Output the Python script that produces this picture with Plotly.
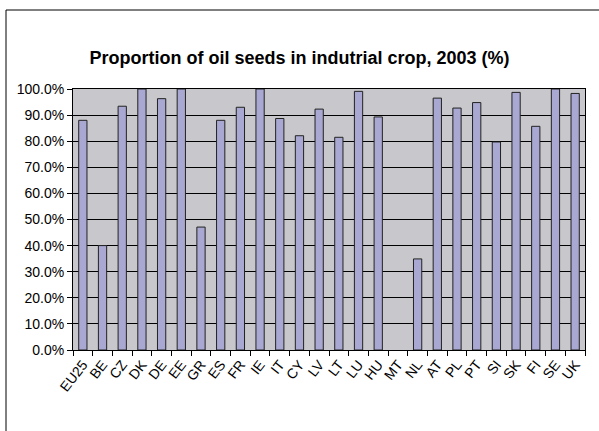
import plotly.graph_objects as go

countries = ["EU25", "BE", "CZ", "DK", "DE", "EE", "GR", "ES", "FR", "IE", "IT", "CY", "LV",
             "LT", "LU", "HU", "MT", "NL", "AT", "PL", "PT", "SI", "SK", "FI", "SE", "UK"]
# MT: nessun valore (barra assente nell'originale)
share = [88.0, 40.0, 93.4, 100.0, 96.3, 100.0, 47.1, 88.0, 93.0, 100.0, 88.7, 82.1, 92.3,
         81.5, 99.1, 89.3, None, 34.9, 96.5, 92.7, 94.8, 79.7, 98.7, 85.7, 100.0, 98.3]
y_ticks = [0, 10, 20, 30, 40, 50, 60, 70, 80, 90, 100]

fig = go.Figure()
fig.add_trace(go.Bar(
    x=countries,
    y=[v / 100 if v is not None else None for v in share],
    width=0.42,
    marker=dict(color="#a8a8d2", line=dict(color="#222222", width=1)),
))

fig.update_layout(
    width=599, height=431,
    paper_bgcolor="white",
    plot_bgcolor="#c8c8cc",
    margin=dict(l=73, r=14, t=89, b=81),
    showlegend=False,
    font=dict(family="Arial, Liberation Sans, sans-serif", size=14, color="black"),
    title=dict(text="<b>Proportion of oil seeds in indutrial crop, 2003 (%)</b>",
               x=0.5, xanchor="center", y=1 - 58 / 431, yanchor="middle",
               font=dict(size=18)),
)

fig.update_xaxes(
    type="category",
    tickangle=-52,
    ticks="outside", ticklen=5, tickcolor="black",
    tickson="boundaries",
    showline=True, linecolor="black", linewidth=1, mirror=True,
    showgrid=False,
    tickfont=dict(size=14),
)
fig.update_yaxes(
    range=[0, 1],
    tickvals=[t / 100 for t in y_ticks],
    tickformat=".1%",
    ticks="outside", ticklen=5, tickcolor="black",
    showline=True, linecolor="black", linewidth=1, mirror=True,
    showgrid=True, gridcolor="black", gridwidth=1,
    zeroline=False,
    tickfont=dict(size=14),
)

# cornice esterna (nell'originale si vedono solo i lati sinistro e superiore)
fig.add_shape(type="rect", xref="paper", yref="paper",
              x0=-67 / 512, x1=1.2, y0=-0.5, y1=1 + 79 / 261,
              line=dict(color="black", width=1), fillcolor="rgba(0,0,0,0)")

fig.write_html("out.html", config={"displayModeBar": False},
               post_script="document.body.style.margin='0';")
